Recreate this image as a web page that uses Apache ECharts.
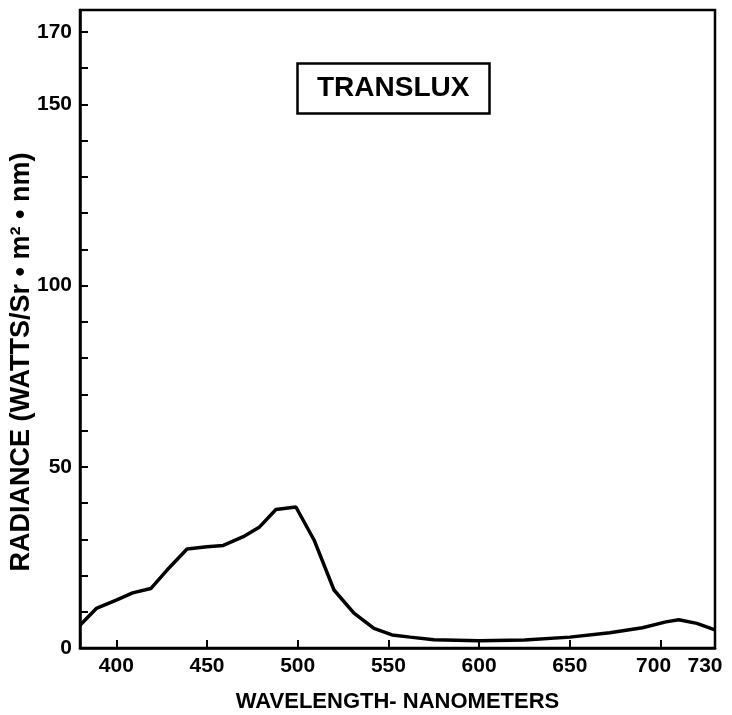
<!DOCTYPE html>
<html>
<head>
<meta charset="utf-8">
<script src="https://cdn.jsdelivr.net/npm/echarts@6/dist/echarts.min.js"></script>
<style>
  html, body { margin: 0; padding: 0; background: #fff; }
  #chart { width: 732px; height: 715px; }
</style>
</head>
<body>
<div id="chart"></div>
<script>
// wavelength (nm) and radiance
var wavelengths = [380, 389, 400, 409, 419, 428, 439, 450, 459, 470, 479, 488, 499, 509, 520, 531, 542, 552, 562, 575, 600, 625, 650, 672, 690, 703, 710, 720, 730];
var radiance    = [6.3, 10.9, 13.2, 15.2, 16.4, 21.5, 27.3, 27.9, 28.3, 30.7, 33.4, 38.2, 38.9, 29.8, 16.0, 9.6, 5.4, 3.6, 3.0, 2.3, 2.0, 2.2, 3.0, 4.2, 5.6, 7.2, 7.8, 6.8, 5.0];

var xTicks  = [400, 450, 500, 550, 600, 650, 700];
var xLabels = [400, 450, 500, 550, 600, 650, 700, 730];
var yTicks  = [0, 10, 20, 30, 40, 50, 60, 70, 80, 90, 100, 110, 120, 130, 140, 150, 160, 170];
var yLabels = [0, 50, 100, 150, 170];

var chart = echarts.init(document.getElementById('chart'));
var font = '"Liberation Sans", Arial, sans-serif';

var points = wavelengths.map(function (w, i) { return [w, radiance[i]]; });

var option = {
  animation: false,
  backgroundColor: '#fff',
  title: {
    text: 'TRANSLUX',
    left: 297,
    top: 63,
    padding: [11, 20, 12, 20],
    borderColor: '#000',
    borderWidth: 2.5,
    textStyle: { fontFamily: font, fontWeight: 'bold', fontSize: 28, color: '#000' }
  },
  grid: {
    left: 80, right: 17, top: 10, bottom: 67,
    containLabel: false,
    outerBoundsMode: 'none',
    show: true, borderColor: '#000', borderWidth: 2.5
  },
  xAxis: {
    type: 'value',
    min: 380, max: 730,
    name: 'WAVELENGTH- NANOMETERS',
    nameLocation: 'middle',
    nameGap: 43,
    nameTextStyle: { fontFamily: font, fontWeight: 'bold', fontSize: 22, color: '#000' },
    axisLine: { lineStyle: { color: '#000', width: 2.5 } },
    axisTick: { inside: true, length: 8, customValues: xTicks, lineStyle: { color: '#000', width: 2 } },
    axisLabel: {
      customValues: xLabels, margin: 8,
      fontFamily: font, fontWeight: 'bold', fontSize: 21, color: '#000',
      formatter: function (v) {
        if (v === 700) return '{a|700}';
        if (v === 730) return '{b|730}';
        return '{n|' + v + '}';
      },
      rich: {
        n: { fontFamily: font, fontWeight: 'bold', fontSize: 21, color: '#000' },
        a: { fontFamily: font, fontWeight: 'bold', fontSize: 21, color: '#000', padding: [0, 14, 0, 0] },
        b: { fontFamily: font, fontWeight: 'bold', fontSize: 21, color: '#000', padding: [0, 20, 0, 0] }
      }
    },
    splitLine: { show: false }
  },
  yAxis: {
    type: 'value',
    min: 0, max: 176,
    axisLine: { lineStyle: { color: '#000', width: 2.5 } },
    axisTick: { inside: true, length: 8, customValues: yTicks, lineStyle: { color: '#000', width: 2 } },
    axisLabel: {
      customValues: yLabels, margin: 8,
      fontFamily: font, fontWeight: 'bold', fontSize: 21, color: '#000'
    },
    splitLine: { show: false }
  },
  graphic: [{
    type: 'text',
    x: 22, y: 362,
    rotation: Math.PI / 2,
    style: {
      text: 'RADIANCE (WATTS/Sr • m² • nm)',
      font: 'bold 27px ' + font,
      fill: '#000',
      align: 'center',
      verticalAlign: 'middle'
    }
  }],
  series: [{
    type: 'line',
    data: points,
    showSymbol: false,
    lineStyle: { color: '#000', width: 3.5 },
    clip: true
  }]
};
chart.setOption(option);
</script>
</body>
</html>
